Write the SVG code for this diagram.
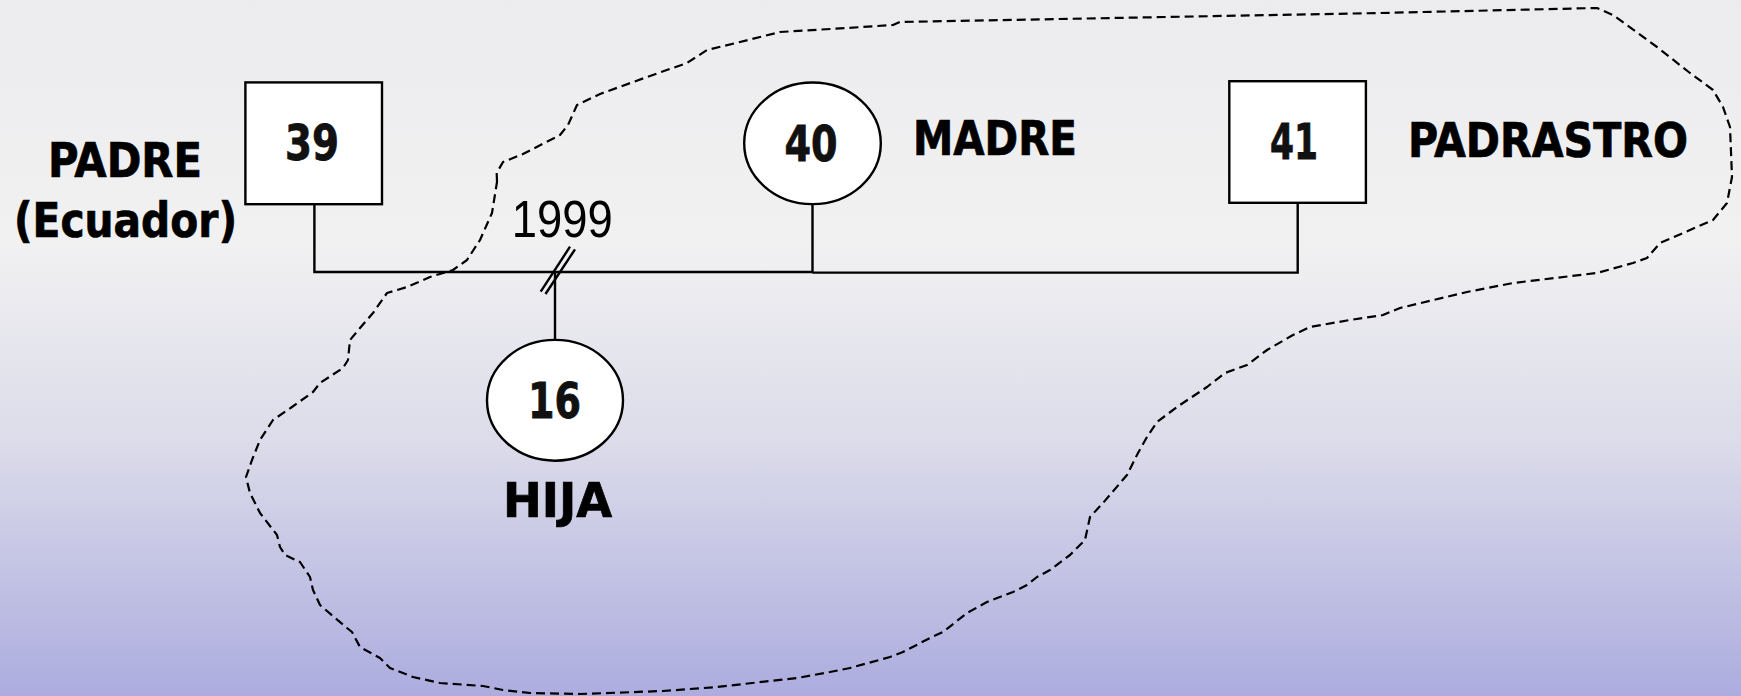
<svg xmlns="http://www.w3.org/2000/svg" width="1741" height="696" viewBox="0 0 1741 696">
  <defs>
    <linearGradient id="bg" x1="0" y1="0" x2="0" y2="1">
      <stop offset="0" stop-color="#ececee"/>
      <stop offset="0.35" stop-color="#f1f1f2"/>
      <stop offset="0.63" stop-color="#dcdcea"/>
      <stop offset="0.8" stop-color="#c6c6e5"/>
      <stop offset="1" stop-color="#acacdf"/>
    </linearGradient>
    <style>
      .shape { fill: #ffffff; stroke: #000000; stroke-width: 2.4; }
      .num { font-family: 'DejaVu Sans Condensed', 'DejaVu Sans', sans-serif; font-weight: bold; font-size: 50px; fill: #111111; stroke: #111111; stroke-width: 0.8; text-anchor: middle; }
      .lbl { font-family: 'DejaVu Sans Condensed', 'DejaVu Sans', sans-serif; font-weight: bold; font-size: 48px; fill: #000000; stroke: #000000; stroke-width: 0.7; }
      .year { font-family: 'Liberation Sans', Arial, sans-serif; font-size: 51px; fill: #000000; }
      .link { fill: none; stroke: #000000; stroke-width: 2.4; }
      .hh { fill: none; stroke: #000000; stroke-width: 2.2; stroke-dasharray: 9 5; stroke-linejoin: round; }
    </style>
  </defs>

  <rect x="0" y="0" width="1741" height="696" fill="url(#bg)"/>

  <g id="household">
    <path class="hh" d="M497,182 L496.7,173 L503,162 L523,154 L560,135 L568,125 L577,105 L600,94 L647,77 L687,63 L707,50 L740,42 L780,32 L847,28 L893,25 L900,22 L1380,13 L1597,8 L1613,15 L1657,47 L1690,73 L1713,90 L1723,107 L1730,127 L1732,177 L1727,203 L1713,220 L1690,230 L1660,243 L1647,258 L1633,263 L1597,273 L1513,283 L1467,292 L1400,308 L1383,315 L1350,320 L1310,327 L1293,335 L1267,350 L1247,365 L1225,373 L1207,387 L1177,407 L1157,422 L1147,437 L1138,453 L1127,475 L1103,503 L1090,517 L1085,540 L1070,555 L1050,570 L1037,577 L1027,585 L1013,592 L987,602 L967,613 L943,632 L930,638 L903,652 L890,657 L850,668 L830,672 L797,678 L717,687 L663,691 L580,694 L530,693 L503,690 L483,686 L440,683 L413,677 L390,668 L380,658 L360,647 L352,632 L347,628 L320,605 L313,590 L310,577 L300,562 L285,555 L280,547 L277,535 L260,513 L250,493 L246,477 L252,460 L260,440 L273,420 L292,407 L313,392 L320,383 L343,368 L348,360 L350,340 L360,328 L373,313 L387,293 L407,287 L430,277 L453,270 L467,260 L480,240 L488,222 L492,213 Z"/>
  </g>

  <g id="connectors">
    <polyline class="link" points="314.4,204 314.4,272 812.5,272 812.5,204.2"/>
    <polyline class="link" points="812.5,272.6 1297.7,272.6 1297.7,203"/>
    <line class="link" x1="555" y1="272" x2="555" y2="340"/>
    <line class="link" x1="540.7" y1="291.7" x2="570" y2="246.7"/>
    <line class="link" x1="545.5" y1="294" x2="575" y2="249.3"/>
    <text class="year" x="511.7" y="237" textLength="101" lengthAdjust="spacingAndGlyphs">1999</text>
  </g>

  <g id="node-39">
    <rect class="shape" x="245.4" y="82.4" width="136.6" height="121.8"/>
    <text class="num" x="312" y="160" textLength="54" lengthAdjust="spacingAndGlyphs">39</text>
  </g>
  <g id="label-padre">
    <text class="lbl" x="48" y="177" textLength="154" lengthAdjust="spacingAndGlyphs">PADRE</text>
    <text class="lbl" x="14" y="237" textLength="223" lengthAdjust="spacingAndGlyphs">(Ecuador)</text>
  </g>

  <g id="node-40">
    <ellipse class="shape" cx="812.5" cy="143.3" rx="68.3" ry="60.8"/>
    <text class="num" x="811" y="161" textLength="53" lengthAdjust="spacingAndGlyphs">40</text>
  </g>
  <g id="label-madre">
    <text class="lbl" x="913" y="155" textLength="164" lengthAdjust="spacingAndGlyphs">MADRE</text>
  </g>

  <g id="node-41">
    <rect class="shape" x="1229.3" y="81.2" width="136.6" height="121.6"/>
    <text class="num" x="1294" y="159" textLength="48" lengthAdjust="spacingAndGlyphs">41</text>
  </g>
  <g id="label-padrastro">
    <text class="lbl" x="1408" y="157" textLength="280" lengthAdjust="spacingAndGlyphs">PADRASTRO</text>
  </g>

  <g id="node-16">
    <ellipse class="shape" cx="555" cy="400.3" rx="68" ry="60.4"/>
    <text class="num" x="554.5" y="418" textLength="53" lengthAdjust="spacingAndGlyphs">16</text>
  </g>
  <g id="label-hija">
    <text class="lbl" x="503" y="517" textLength="109" lengthAdjust="spacingAndGlyphs">HIJA</text>
  </g>
</svg>
